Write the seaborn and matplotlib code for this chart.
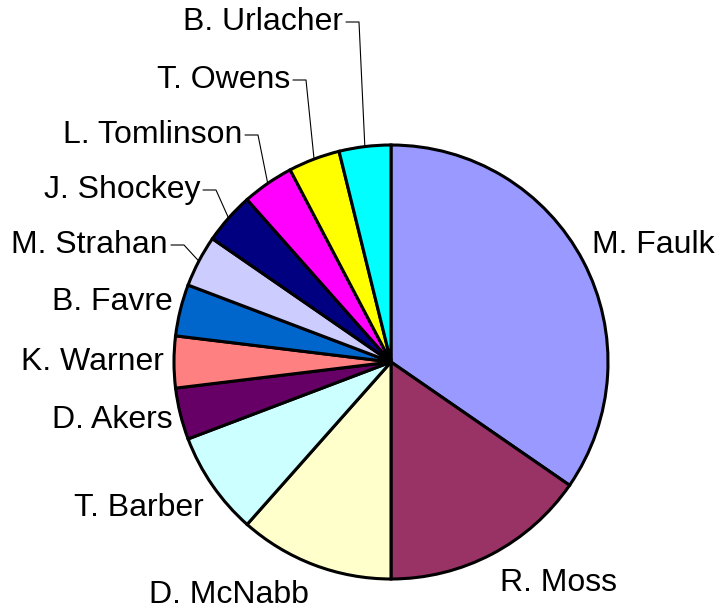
import numpy as np
import matplotlib
matplotlib.use('Agg')
import matplotlib.pyplot as plt
import seaborn as sns

sns.set_theme(style='white')
plt.rcParams['font.family'] = ['Liberation Sans', 'DejaVu Sans']
plt.rcParams['text.color'] = 'black'

players = ['M. Faulk', 'R. Moss', 'D. McNabb', 'T. Barber', 'D. Akers', 'K. Warner',
           'B. Favre', 'M. Strahan', 'J. Shockey', 'L. Tomlinson', 'T. Owens', 'B. Urlacher']
votes = [9, 4, 3, 2, 1, 1, 1, 1, 1, 1, 1, 1]
colors = ['#9999FF', '#993366', '#FFFFCC', '#CCFFFF', '#660066', '#FF8080',
          '#0066CC', '#CCCCFF', '#000080', '#FF00FF', '#FFFF00', '#00FFFF']

# label anchor positions in pixel space (y from top), and whether a leader line is used
label_pos = [(653, 245), (559, 583), (229, 595), (139, 508), (112, 420), (92, 362),
             (112, 302), (168, 245), (200, 190), (242, 135), (290, 80), (343, 22)]
leader = [False] * 7 + [True] * 5

W, H = 720, 612
cx, cy, r = 391, H - 362, 217

fig = plt.figure(figsize=(W / 100, H / 100), dpi=100)
ax = fig.add_axes([0, 0, 1, 1])
wedges, _ = ax.pie(votes, colors=colors, startangle=90, counterclock=False,
                   radius=r, center=(cx, cy),
                   wedgeprops=dict(edgecolor='black', linewidth=2.2))
ax.set_xlim(0, W)
ax.set_ylim(0, H)
ax.set_aspect('equal')
ax.axis('off')

for w, name, (lx, ly), ld in zip(wedges, players, label_pos, leader):
    y = H - ly
    if ld:
        ax.text(lx, y, name, ha='right', va='center', fontsize=23, color='black')
        mid = np.deg2rad((w.theta1 + w.theta2) / 2)
        px, py = cx + r * np.cos(mid), cy + r * np.sin(mid)
        ax.plot([lx + 3, lx + 16, px], [y, y, py], color='black', lw=0.8)
    else:
        ax.text(lx, y, name, ha='center', va='center', fontsize=23, color='black')

fig.savefig('out.png', dpi=100)
